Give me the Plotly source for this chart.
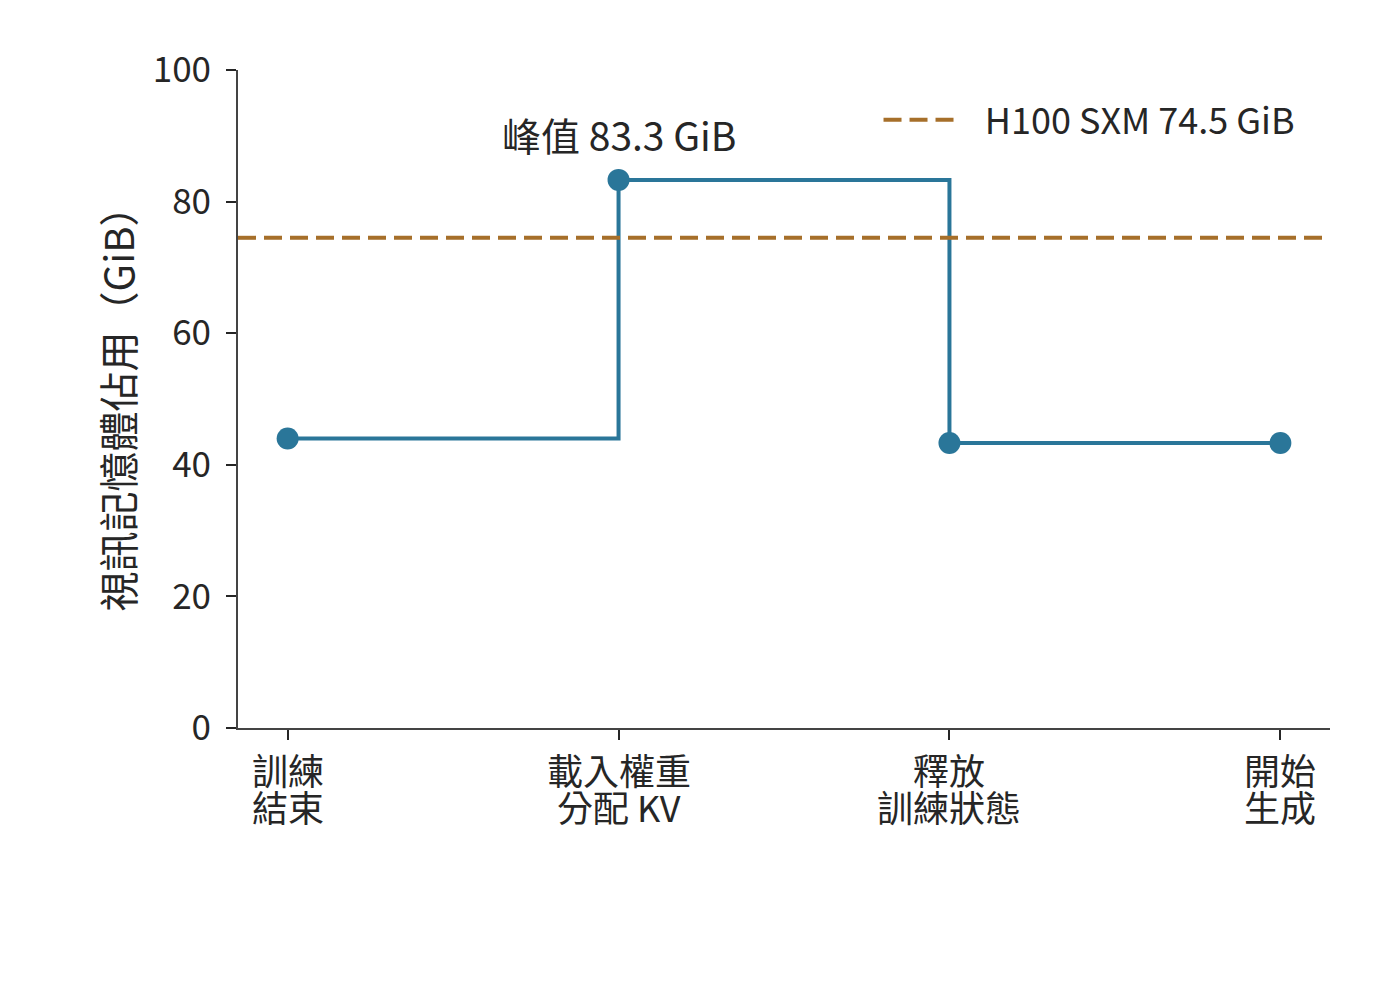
import plotly.graph_objects as go

stage_lines = [["訓練", "結束"], ["載入權重", "分配 KV"], ["釋放", "訓練狀態"], ["開始", "生成"]]
stages = ["".join(s) for s in stage_lines]
memory_gib = [44.0, 83.3, 43.3, 43.3]
h100_limit = 74.5
h100_label = "H100 SXM 74.5 GiB"
peak_label = "峰值 83.3 GiB"
y_ticks = [0, 20, 40, 60, 80, 100]

BLUE = "#2a7699"
BROWN = "#a66f2a"
INK = "#262626"
FONT = "Noto Sans CJK TC"
X_RANGE = [-0.15, 3.15]

fig = go.Figure()
fig.add_trace(go.Scatter(
    x=stages, y=memory_gib, mode="lines+markers",
    line=dict(shape="hv", color=BLUE, width=4),
    marker=dict(size=22, color=BLUE),
    showlegend=False,
))
# dashed capacity line across the full plot width
fig.add_trace(go.Scatter(
    x=X_RANGE, y=[h100_limit, h100_limit], mode="lines",
    line=dict(color=BROWN, width=4, dash="18px,8px"),
    name="\u00a0\u00a0\u00a0" + h100_label, xaxis="x2",
))

peak_i = max(range(len(memory_gib)), key=lambda i: memory_gib[i])
fig.add_annotation(
    x=stages[peak_i], y=memory_gib[peak_i], text=peak_label, showarrow=False,
    yshift=46, font=dict(size=39, color=INK, family=FONT),
)

# two-line category labels (tighter line spacing than plotly's <br>)
for name, lines in zip(stages, stage_lines):
    for k, line in enumerate(lines):
        fig.add_annotation(
            x=name, y=0, yref="paper", text=line, showarrow=False,
            yanchor="middle", yshift=-41 - 37 * k,
            font=dict(size=36, color=INK, family=FONT),
        )

fig.update_layout(
    width=1400, height=984,
    margin=dict(l=230, r=78, t=62, b=264),
    plot_bgcolor="white", paper_bgcolor="white",
    font=dict(family=FONT, size=35, color=INK),
    legend=dict(x=0.973, y=0.97, xanchor="right", yanchor="top",
                bgcolor="rgba(0,0,0,0)", font=dict(size=36),
                itemwidth=72),
    xaxis=dict(type="category", range=X_RANGE, showline=True,
               linecolor="#444", linewidth=2, ticks="outside", ticklen=10,
               tickwidth=2, tickcolor=INK, showgrid=False, zeroline=False,
               showticklabels=False),
    xaxis2=dict(range=X_RANGE, overlaying="x", visible=False),
    yaxis=dict(range=[0, 100], tickvals=y_ticks, showline=True,
               linecolor="#444", linewidth=2, ticks="outside", ticklen=10,
               tickwidth=2, tickcolor=INK, showgrid=False, zeroline=False,
               ticklabelstandoff=8, tickfont=dict(size=35),
               title=dict(text="視訊記憶體佔用（GiB）", standoff=6,
                          font=dict(size=40))),
)

fig.write_html("out.html")
